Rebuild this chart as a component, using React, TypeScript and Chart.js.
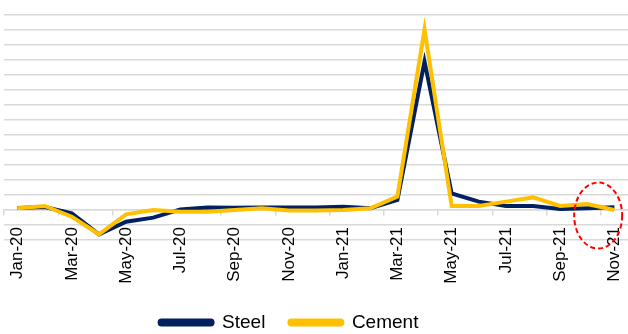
import React, { useEffect, useRef } from "react";
import { Chart, registerables } from "chart.js";

Chart.register(...registerables);

const months = [
  "Jan-20", "Feb-20", "Mar-20", "Apr-20", "May-20", "Jun-20", "Jul-20", "Aug-20",
  "Sep-20", "Oct-20", "Nov-20", "Dec-20", "Jan-21", "Feb-21", "Mar-21", "Apr-21",
  "May-21", "Jun-21", "Jul-21", "Aug-21", "Sep-21", "Oct-21", "Nov-21",
];
const steel = [1.3, 2, -2.2, -16.2, -7.8, -5.1, 0.4, 1.6, 1.5, 1.6, 1.6, 1.6, 2.2, 1.1, 6.7, 98.9, 11.1, 5.6, 2.7, 2.7, 0.7, 1.1, 1.8];
const cement = [1.1, 2.7, -4.5, -16.2, -2.9, 0, -1.1, -1.1, 0, 1.1, -0.4, -0.4, 0, 1.1, 8.9, 120.4, 2.7, 2.7, 5.6, 8.4, 2.7, 4, 0];
const yMin = -20;
const yMax = 130;
const yStep = 10;
const ellipseCenterIndex = 21.4;
const ellipseCenterValue = -3.7;

const FONT = "'Liberation Sans', Arial, sans-serif";

const ellipsePlugin = {
  id: "ellipseMark",
  afterDatasetsDraw(chart: any) {
    const xs = chart.scales.x;
    const ys = chart.scales.y;
    const cx = xs.getPixelForValue(ellipseCenterIndex);
    const cy = ys.getPixelForValue(ellipseCenterValue);
    const ctx = chart.ctx;
    ctx.save();
    ctx.beginPath();
    ctx.ellipse(cx, cy, 24, 33, 0, 0, Math.PI * 2);
    ctx.setLineDash([5, 3]);
    ctx.lineWidth = 2;
    ctx.strokeStyle = "#ff0000";
    ctx.stroke();
    ctx.restore();
  },
};

const legendShiftPlugin = {
  id: "legendShift",
  afterLayout(chart: any) {
    if (chart.legend) {
      chart.legend.right -= 54;
    }
  },
};

export default function App() {
  const ref = useRef<HTMLCanvasElement | null>(null);
  useEffect(() => {
    if (!ref.current) return;
    const chart = new Chart(ref.current, {
      type: "line",
      data: {
        labels: months,
        datasets: [
          {
            label: "Steel",
            data: steel,
            borderColor: "#002060",
            backgroundColor: "#002060",
            borderWidth: 4,
            pointRadius: 0,
            tension: 0,
            order: 2,
          },
          {
            label: "Cement",
            data: cement,
            borderColor: "#FFC000",
            backgroundColor: "#FFC000",
            borderWidth: 4,
            pointRadius: 0,
            tension: 0,
            order: 1,
          },
        ],
      },
      options: {
        animation: false,
        responsive: true,
        maintainAspectRatio: false,
        layout: { padding: { left: 4, right: 0, top: 15, bottom: -8 } },
        scales: {
          x: {
            position: { y: 0 } as any,
            offset: true,
            afterFit: (scale: any) => {
              scale.paddingLeft = 0;
              scale.paddingRight = 0;
            },
            grid: {
              display: true,
              drawOnChartArea: false,
              drawTicks: true,
              tickLength: 5,
              offset: true,
              lineWidth: 1.5,
              tickColor: (ctx: any) => (ctx.index % 2 === 0 ? "#d9d9d9" : "rgba(0,0,0,0)"),
            },
            border: { display: true, color: "#d9d9d9", width: 1.5 },
            ticks: {
              autoSkip: false,
              minRotation: 90,
              maxRotation: 90,
              padding: 12,
              color: "#000",
              font: { family: FONT, size: 17 },
              callback: function (this: any, val: any, idx: number) {
                return idx % 2 === 0 ? this.getLabelForValue(val) : "";
              },
            },
          },
          y: {
            min: yMin,
            max: yMax,
            ticks: { stepSize: yStep, display: false },
            grid: { color: "#d9d9d9", lineWidth: 1.5, drawTicks: false },
            border: { display: false },
          },
        },
        plugins: {
          tooltip: { enabled: false },
          legend: {
            position: "bottom",
            title: { display: true, text: " ", padding: { top: 37, bottom: 0 }, font: { size: 10 } },
            labels: {
              font: { family: FONT, size: 19 },
              color: "#000",
              boxWidth: 53,
              boxHeight: 4,
              padding: 24,
              useBorderRadius: true,
              borderRadius: 2,
              sort: (a: any, b: any) => a.datasetIndex - b.datasetIndex,
            },
          },
        },
      },
      plugins: [ellipsePlugin, legendShiftPlugin],
    });
    return () => chart.destroy();
  }, []);
  return (
    <div style={{ position: "absolute", left: 0, top: 0, width: 628, height: 334 }}>
      <canvas ref={ref} />
    </div>
  );
}
